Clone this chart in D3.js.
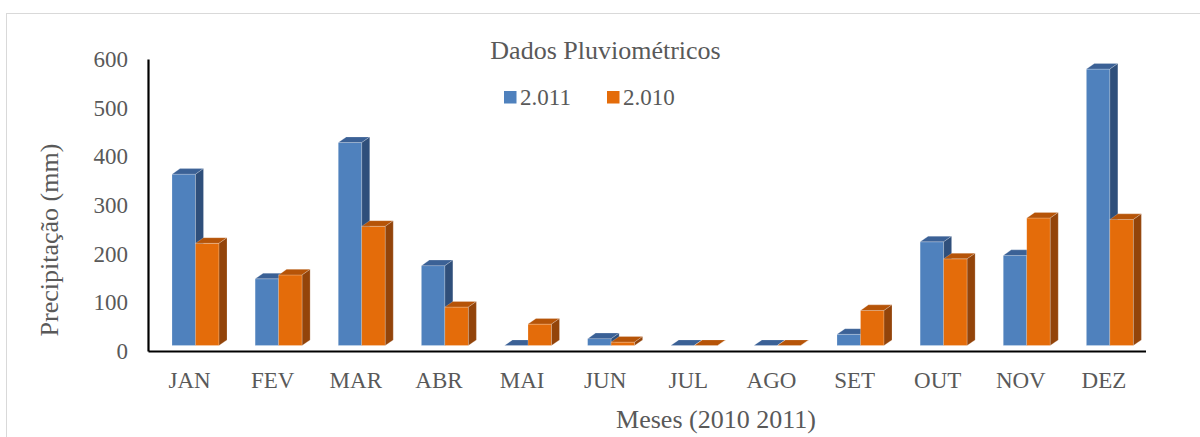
<!DOCTYPE html>
<html>
<head>
<meta charset="utf-8">
<script src="https://cdn.jsdelivr.net/npm/d3@7"></script>
<style>
  body { margin: 0; background: #fff; }
  svg { display: block; }
  text { font-family: "Liberation Serif", "Times New Roman", serif; fill: #595959; }
</style>
</head>
<body>
<div id="chart"></div>
<script>
// Dados
const months = ["JAN", "FEV", "MAR", "ABR", "MAI", "JUN", "JUL", "AGO", "SET", "OUT", "NOV", "DEZ"];
const series = ["2.011", "2.010"];
const values2011 = [352, 137, 417, 164, 0, 14, 0, 0, 23, 213, 185, 568];
const values2010 = [210, 145, 245, 79, 44, 7, 0, 0, 72, 178, 262, 259];
const yTicks = [0, 100, 200, 300, 400, 500, 600];

const width = 1200;
const height = 437;

// Farben: Vorderseite, Oberseite, Seite
const colors = {
  "2.011": { front: "#4f81bd", top: "#3b6196", side: "#2f4f7b" },
  "2.010": { front: "#e46c0a", top: "#b65408", side: "#93440a" }
};

const data = months.map((m, i) => ({ month: m, "2.011": values2011[i], "2.010": values2010[i] }));

const drawChart = () => {

  const svg = d3.select("#chart")
    .append("svg")
    .attr("width", width)
    .attr("height", height)
    .attr("viewBox", [0, 0, width, height]);

  // Rahmen (nur oben und links sichtbar)
  svg.append("rect")
    .attr("x", 6.5)
    .attr("y", 13.5)
    .attr("width", 1300)
    .attr("height", 600)
    .attr("fill", "none")
    .attr("stroke", "#d9d9d9");

  const xScale = d3.scaleBand()
    .domain(months)
    .range([148, 1145.5]);

  const yScale = d3.scaleLinear()
    .domain([0, 600])
    .range([351, 59]);

  // bars sit a little behind the axis (3D depth)
  const depthX = 8;
  const depthY = 5.6;
  const setBack = 5.5;
  const barWidth = 23.5;
  const groupOffset = 24;

  const xSeries = d3.scaleBand()
    .domain(series)
    .range([0, barWidth * 2]);

  const bars = svg.append("g");

  data.forEach(d => {
    series.forEach(s => {
      const x = xScale(d.month) + groupOffset + xSeries(s);
      const yBase = yScale(0) - setBack;
      const yTop = yScale(d[s]) - setBack;
      const w = xSeries.bandwidth();
      const c = colors[s];
      const g = bars.append("g");

      g.append("rect")
        .attr("x", x)
        .attr("y", yTop)
        .attr("width", w)
        .attr("height", yBase - yTop)
        .attr("fill", c.front);

      g.append("polygon")
        .attr("points", [[x, yTop], [x + depthX, yTop - depthY], [x + w + depthX, yTop - depthY], [x + w, yTop]].join(" "))
        .attr("fill", c.top);

      g.append("polygon")
        .attr("points", [[x + w, yTop], [x + w + depthX, yTop - depthY], [x + w + depthX, yBase - depthY], [x + w, yBase]].join(" "))
        .attr("fill", c.side);

      g.selectAll("rect, polygon")
        .attr("stroke", "#ffffff")
        .attr("stroke-opacity", 0.35)
        .attr("stroke-width", 0.6);
    });
  });

  // Achsen
  const bottomAxis = d3.axisBottom(xScale)
    .tickSize(0)
    .tickPadding(21);

  const xAxis = svg.append("g")
    .attr("transform", `translate(0, ${yScale(0)})`)
    .call(bottomAxis);

  const leftAxis = d3.axisLeft(yScale)
    .tickValues(yTicks)
    .tickSize(0)
    .tickPadding(20);

  const yAxis = svg.append("g")
    .attr("transform", `translate(148, 0)`)
    .call(leftAxis);

  [xAxis, yAxis].forEach(a => {
    a.select(".domain")
      .attr("stroke", "#000")
      .attr("stroke-width", 2.2);
    a.selectAll("text")
      .attr("font-size", 23)
      .attr("font-family", "Liberation Serif")
      .attr("fill", "#595959");
  });

  // Titel
  svg.append("text")
    .attr("x", 605.5)
    .attr("y", 59)
    .attr("text-anchor", "middle")
    .attr("font-size", 26)
    .text("Dados Pluviométricos");

  svg.append("text")
    .attr("x", 716)
    .attr("y", 428)
    .attr("text-anchor", "middle")
    .attr("font-size", 26)
    .text("Meses (2010 2011)");

  svg.append("text")
    .attr("transform", "translate(58, 240) rotate(-90)")
    .attr("text-anchor", "middle")
    .attr("font-size", 26)
    .text("Precipitação (mm)");

  // Legende
  const legendX = [504, 607];
  const legend = svg.append("g");
  series.forEach((s, i) => {
    legend.append("rect")
      .attr("x", legendX[i])
      .attr("y", 91)
      .attr("width", 12.5)
      .attr("height", 12.5)
      .attr("fill", colors[s].front);
    legend.append("text")
      .attr("x", legendX[i] + 16)
      .attr("y", 105)
      .attr("font-size", 23)
      .text(s);
  });
};

drawChart();
</script>
</body>
</html>
